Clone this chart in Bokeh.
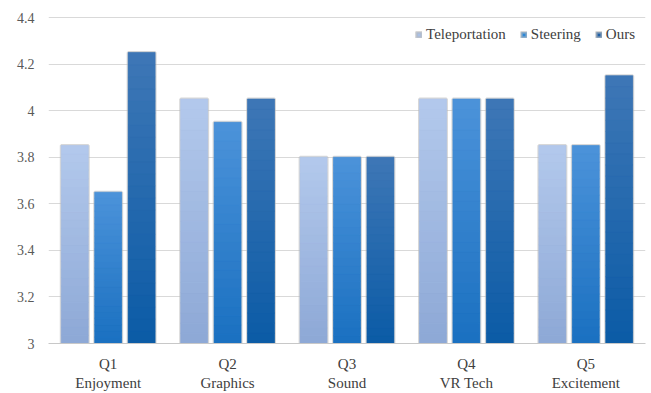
from bokeh.plotting import figure
from bokeh.models import ColumnDataSource, Range1d, Legend, LegendItem, FactorRange
from bokeh.transform import dodge
from bokeh.embed import file_html
from bokeh.resources import INLINE

# Mean ratings per question and locomotion technique
questions = ["Q1\nEnjoyment", "Q2\nGraphics", "Q3\nSound", "Q4\nVR Tech", "Q5\nExcitement"]
teleportation = [3.85, 4.05, 3.80, 4.05, 3.85]
steering = [3.65, 3.95, 3.80, 4.05, 3.85]
ours = [4.25, 4.05, 3.80, 4.05, 4.15]
series_names = ["Teleportation", "Steering", "Ours"]
y_ticks = [3, 3.2, 3.4, 3.6, 3.8, 4, 4.2, 4.4]

BASE = 3.0
FONT = "Liberation Serif"

# (legend colour, top colour, bottom colour) for each series
palettes = [
    ("#A9C0E6", (0xB3, 0xC9, 0xEC), (0x8D, 0xA8, 0xD6)),
    ("#2C88D8", (0x4C, 0x93, 0xDA), (0x1A, 0x70, 0xC0)),
    ("#1F60A6", (0x3E, 0x77, 0xB6), (0x0B, 0x5B, 0xA6)),
]
offsets = [-0.28, 0.0, 0.28]
BAR_W = 0.226
N_SLICES = 24

p = figure(
    x_range=FactorRange(*questions),
    y_range=Range1d(BASE, 4.4043),
    width=651, height=393,
    output_backend="svg", toolbar_location=None,
    min_border_left=48, min_border_right=6,
    min_border_top=16, min_border_bottom=50,
    outline_line_color=None,
)
p.background_fill_color = "white"
p.border_fill_color = "white"


def lerp(c1, c2, t):
    return "#%02x%02x%02x" % tuple(int(round(a + (b - a) * t)) for a, b in zip(c1, c2))


legend_items = []
for name, vals, (solid, top_c, bot_c), off in zip(series_names, [teleportation, steering, ours], palettes, offsets):
    # full bar with a soft grey rim (acts as a shadow)
    base_src = ColumnDataSource(dict(x=questions, top=vals))
    base = p.vbar(x=dodge("x", off, range=p.x_range), top="top", bottom=BASE, width=BAR_W,
                  source=base_src, fill_color=solid, line_color="#B8B8B8", line_width=3, line_alpha=0.55)
    legend_items.append(LegendItem(label=name, renderers=[base]))

    # vertical colour gradient: slices of each bar, lighter at the top
    xs, bots, tops, cols = [], [], [], []
    for q, v in zip(questions, vals):
        h = v - BASE
        for i in range(N_SLICES):
            xs.append(q)
            bots.append(BASE + h * i / N_SLICES)
            tops.append(BASE + h * (i + 1) / N_SLICES)
            cols.append(lerp(bot_c, top_c, (i + 0.5) / N_SLICES))
    grad_src = ColumnDataSource(dict(x=xs, bottom=bots, top=tops, color=cols))
    p.vbar(x=dodge("x", off, range=p.x_range), top="top", bottom="bottom", width=BAR_W,
           source=grad_src, fill_color="color", line_color="color", line_width=0.6)

# axes
p.yaxis.ticker = y_ticks
p.yaxis.major_label_overrides = {3: "3", 4: "4"}
p.yaxis.axis_line_color = None
p.yaxis.major_tick_line_color = None
p.yaxis.minor_tick_line_color = None
p.yaxis.major_label_standoff = 8
p.yaxis.major_label_text_font = FONT
p.yaxis.major_label_text_font_size = "14px"
p.yaxis.major_label_text_color = "#595959"

p.xaxis.axis_line_color = "#C8C8C8"
p.xaxis.major_tick_line_color = None
p.xaxis.minor_tick_line_color = None
p.xaxis.major_tick_out = 0
p.xaxis.major_label_standoff = 12
p.xaxis.major_label_text_font = FONT
p.xaxis.major_label_text_font_size = "15px"
p.xaxis.major_label_text_color = "#404040"
p.xaxis.major_label_text_line_height = 1.2

p.xgrid.grid_line_color = None
p.ygrid.grid_line_color = "#D9D9D9"
p.ygrid.grid_line_width = 1

legend = Legend(items=legend_items, orientation="horizontal", location="top_right",
                label_text_font=FONT, label_text_font_size="15px", label_text_color="#404040",
                glyph_width=7, glyph_height=7, spacing=14, label_standoff=4,
                border_line_color=None, background_fill_color="white", background_fill_alpha=1.0,
                margin=10, padding=4)
p.add_layout(legend)

open("out.html", "w").write(file_html(p, INLINE))
